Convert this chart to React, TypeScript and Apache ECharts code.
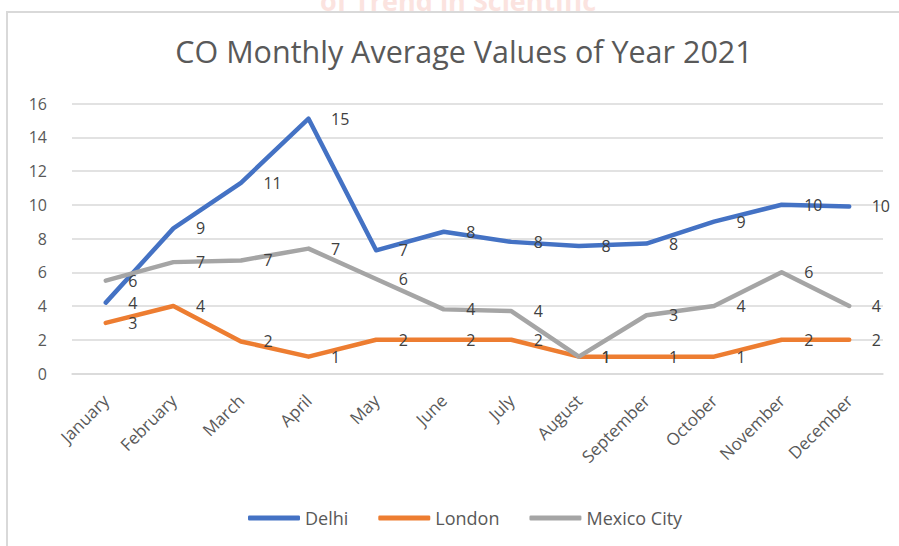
import React, { useEffect, useRef } from "react";
import * as echarts from "echarts";

const months = ["January", "February", "March", "April", "May", "June", "July", "August", "September", "October", "November", "December"];
const delhi = [4.2, 8.6, 11.3, 15.1, 7.3, 8.4, 7.8, 7.55, 7.7, 9.0, 10.0, 9.9];
const london = [3.0, 4.0, 1.9, 1.0, 2.0, 2.0, 2.0, 1.0, 1.0, 1.0, 2.0, 2.0];
const mexico = [5.5, 6.6, 6.7, 7.4, 5.6, 3.8, 3.7, 1.0, 3.45, 4.0, 6.0, 4.0];
const seriesNames = ["Delhi", "London", "Mexico City"];
const colors = ["#4472C4", "#ED7D31", "#A5A5A5"];

const FONT = "'Open Sans', sans-serif";

export default function App() {
  const ref = useRef<HTMLDivElement>(null);
  useEffect(() => {
    document.body.style.margin = "0";
    if (!ref.current) return;
    const chart = echarts.init(ref.current, null, { renderer: "svg" });
    const mk = (name: string, data: number[], color: string) => ({
      name,
      type: "line",
      data,
      symbol: "circle",
      symbolSize: 1,
      showSymbol: true,
      lineStyle: { width: 4.5, color, cap: "round", join: "round" },
      itemStyle: { color },
      label: {
        show: true,
        position: "right",
        distance: 22,
        formatter: (p: any) => String(Math.round(p.value)),
        fontSize: 16,
        lineHeight: 14,
        color: "#404040",
        fontFamily: FONT,
      },
    });
    chart.setOption({
      animation: false,
      backgroundColor: "#ffffff",
      title: {
        text: "CO Monthly Average Values of Year 2021",
        left: 459,
        top: 30,
        textAlign: "center",
        textStyle: { fontSize: 30.5, fontWeight: "normal", color: "#595959", fontFamily: FONT },
      },
      graphic: [
        {
          type: "text",
          left: 320,
          top: -13,
          z: -20,
          silent: true,
          style: { text: "of Trend in Scientific", fontSize: 27, fontWeight: "bold", fill: "#fbe3df", fontFamily: FONT },
        },
        {
          type: "rect",
          z: -10,
          silent: true,
          shape: { x: 7, y: 12, width: 900, height: 540 },
          style: { fill: "#ffffff", stroke: "#d9d9d9", lineWidth: 2 },
        },
      ],
      legend: {
        data: seriesNames,
        left: 243,
        top: 504,
        icon: "roundRect",
        itemWidth: 52,
        itemHeight: 5,
        itemGap: 30,
        textStyle: { fontSize: 18, color: "#595959", fontFamily: FONT },
      },
      grid: { left: 72, right: 16, top: 103.5, bottom: 172.5, containLabel: false },
      xAxis: {
        type: "category",
        data: months,
        boundaryGap: true,
        axisLine: { show: true, lineStyle: { color: "#d9d9d9", width: 1.5 } },
        axisTick: { show: false },
        axisLabel: { rotate: 45, fontSize: 17, color: "#595959", margin: 24, fontFamily: FONT, interval: 0 },
      },
      yAxis: {
        type: "value",
        min: 0,
        max: 16,
        interval: 2,
        axisLine: { show: false },
        axisTick: { show: false },
        splitLine: { lineStyle: { color: "#d9d9d9", width: 1.5 } },
        axisLabel: { fontSize: 16, color: "#595959", margin: 25, fontFamily: FONT },
      },
      series: [mk(seriesNames[0], delhi, colors[0]), mk(seriesNames[1], london, colors[1]), mk(seriesNames[2], mexico, colors[2])],
    });
    return () => chart.dispose();
  }, []);
  return <div ref={ref} style={{ width: 899, height: 546 }} />;
}
